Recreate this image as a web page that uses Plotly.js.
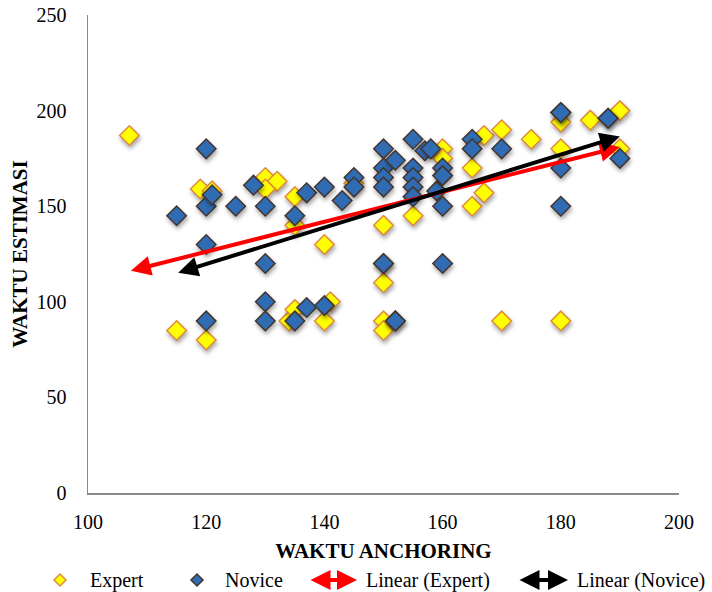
<!DOCTYPE html>
<html>
<head>
<meta charset="utf-8">
<script src="https://cdn.plot.ly/plotly-3.0.1.min.js"></script>
<style>
html,body{margin:0;padding:0;background:#fff;}
#chart{width:712px;height:592px;}
#chart .scatterlayer .trace .points path{filter:drop-shadow(1px 3px 2px rgba(0,0,0,0.35));}
</style>
</head>
<body>
<div id="chart"></div>
<script>
// ---- data ----
const seriesNames = ['Expert', 'Novice', 'Linear (Expert)', 'Linear (Novice)'];
const expertX = [107,115,119,120,121,130,132,130,135,135,134,135,140,141,140,145,150,150,150,150,155,160,160,165,165,167,167,170,170,175,180,180,180,185,190,190];
const expertY = [187, 85,159, 80,158,165,163,159,155,140, 90, 96,130,100, 90,162,140,110, 90, 85,145,180,175,170,150,187,157,190, 90,185,194,180, 90,195,200,180];
const noviceX = [115,120,120,121,120,120,125,128,130,130,130,130,135,135,137,137,140,140,143,145,145,150,150,150,150,150,150,152,152,152,155,155,155,155,155,157,158,159,160,160,160,160,165,165,170,180,180,180,180,188,188,190];
const noviceY = [145,180,150,156,130, 90,150,161,150,120,100, 90,145, 90,157, 97,160, 98,153,165,160,180,170,165,160,120,120,174, 90, 90,185,170,165,160,155,179,180,158,170,166,150,120,185,180,180,199,199,170,150,196,196,175];
const trendExpertX = [107, 190];
const trendExpertY = [116, 181];
const trendNoviceX = [115, 190];
const trendNoviceY = [115, 186.5];
const xTicks = [100, 120, 140, 160, 180, 200];
const yTicks = [0, 50, 100, 150, 200, 250];

const FONT = 'Liberation Serif, Times New Roman, serif';
const expertFill = '#FFFF00', expertLine = '#E08A3C';
const noviceFill = '#2F6CB3', noviceLine = '#45352D';

const traces = [
  {type:'scatter', mode:'markers', name:seriesNames[0], x:expertX, y:expertY,
   marker:{symbol:'diamond', size:15, color:expertFill, line:{color:expertLine, width:1.5}}},
  {type:'scatter', mode:'markers', name:seriesNames[1], x:noviceX, y:noviceY,
   marker:{symbol:'diamond', size:15, color:noviceFill, line:{color:noviceLine, width:1.5}}}
];

// paper-coordinate helpers for the custom legend (plot area 88..679 px, 15..493 px)
const px2x = p => (p - 88) / 591;
const py2y = p => (493 - p) / 478;
const legY = py2y(580);

const annotations = [
  // trend lines (double-headed arrows in data coordinates)
  {x:trendExpertX[1], y:trendExpertY[1], ax:trendExpertX[0], ay:trendExpertY[0], xref:'x', yref:'y', axref:'x', ayref:'y',
   text:'', showarrow:true, arrowside:'end+start', arrowhead:2, arrowsize:1, arrowwidth:4, arrowcolor:'#FF0000', standoff:0, startstandoff:0},
  {x:trendNoviceX[1], y:trendNoviceY[1], ax:trendNoviceX[0], ay:trendNoviceY[0], xref:'x', yref:'y', axref:'x', ayref:'y',
   text:'', showarrow:true, arrowside:'end+start', arrowhead:2, arrowsize:1, arrowwidth:4, arrowcolor:'#000000', standoff:0, startstandoff:0},
  // legend texts
  {x:px2x(88), y:legY, xref:'paper', yref:'paper', text:seriesNames[0], showarrow:false, xanchor:'left', yanchor:'middle', font:{family:FONT, size:20, color:'#000'}},
  {x:px2x(223), y:legY, xref:'paper', yref:'paper', text:seriesNames[1], showarrow:false, xanchor:'left', yanchor:'middle', font:{family:FONT, size:20, color:'#000'}},
  {x:px2x(364), y:legY, xref:'paper', yref:'paper', text:seriesNames[2], showarrow:false, xanchor:'left', yanchor:'middle', font:{family:FONT, size:20, color:'#000'}},
  {x:px2x(575), y:legY, xref:'paper', yref:'paper', text:seriesNames[3], showarrow:false, xanchor:'left', yanchor:'middle', font:{family:FONT, size:20, color:'#000'}},
  // legend arrows
  {x:px2x(357), y:legY, xref:'paper', yref:'paper', ax:-48, ay:0, text:'', showarrow:true, arrowside:'end+start', arrowhead:2, arrowsize:1, arrowwidth:4, arrowcolor:'#FF0000', standoff:0, startstandoff:0},
  {x:px2x(568), y:legY, xref:'paper', yref:'paper', ax:-50, ay:0, text:'', showarrow:true, arrowside:'end+start', arrowhead:2, arrowsize:1, arrowwidth:4, arrowcolor:'#000000', standoff:0, startstandoff:0}
];

const diamondPath = 'M0,6 L6,0 L0,-6 L-6,0 Z';
const shapes = [
  {type:'path', xref:'paper', yref:'paper', xsizemode:'pixel', ysizemode:'pixel', xanchor:px2x(60), yanchor:legY,
   path:diamondPath, fillcolor:expertFill, line:{color:expertLine, width:1.5}},
  {type:'path', xref:'paper', yref:'paper', xsizemode:'pixel', ysizemode:'pixel', xanchor:px2x(197), yanchor:legY,
   path:diamondPath, fillcolor:noviceFill, line:{color:noviceLine, width:1.5}}
];

const layout = {
  width:712, height:592,
  margin:{l:88, r:33, t:15, b:99},
  paper_bgcolor:'#ffffff', plot_bgcolor:'#ffffff',
  showlegend:false,
  font:{family:FONT, size:20, color:'#000'},
  xaxis:{range:[100,200], tickvals:xTicks, showgrid:false, zeroline:false, showline:true,
         linecolor:'#8a8a8a', linewidth:1.5, ticks:'', ticklabelstandoff:10,
         tickfont:{family:FONT, size:20, color:'#000'},
         title:{text:'<b>WAKTU ANCHORING</b>', font:{family:FONT, size:21, color:'#000'}, standoff:12}},
  yaxis:{range:[0,250], tickvals:yTicks, showgrid:false, zeroline:false, showline:true,
         linecolor:'#8a8a8a', linewidth:1.5, ticks:'', ticklabelstandoff:16,
         tickfont:{family:FONT, size:20, color:'#000'},
         title:{text:'<b>WAKTU ESTIMASI</b>', font:{family:FONT, size:21, color:'#000'}, standoff:3}},
  annotations:annotations,
  shapes:shapes
};

Plotly.newPlot('chart', traces, layout, {staticPlot:true, displayModeBar:false});
</script>
</body>
</html>
